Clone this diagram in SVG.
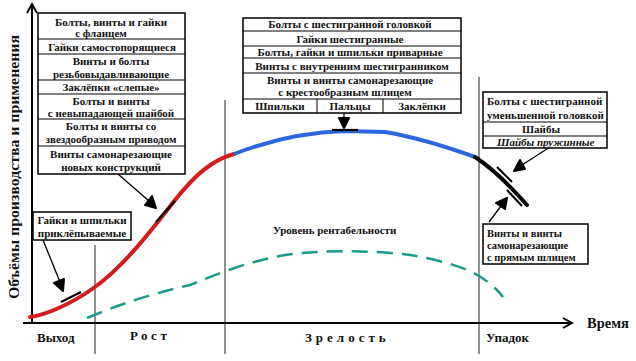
<svg xmlns="http://www.w3.org/2000/svg" width="636" height="361" viewBox="0 0 636 361">
<style>
text{font-family:'Liberation Serif','DejaVu Serif',serif;font-weight:bold;fill:#111}
.t{font-size:11px;text-anchor:middle}
.s{font-size:10.5px}
.box{fill:#fff;stroke:#000;stroke-width:1.5}
.ln{stroke:#000;stroke-width:1}
.ax{stroke:#000;stroke-width:2;fill:none}
.div{stroke:#222;stroke-width:1}
.lab{font-size:13px}
.lead{fill:none;stroke:#000;stroke-width:1.3}
.head{fill:#000;stroke:#000;stroke-width:2;stroke-linejoin:round}
.tick{fill:none;stroke:#000;stroke-width:2.2}
</style>
<rect width="636" height="361" fill="#fff"/>

<g id="axes">
<line class="ax" x1="32" y1="4" x2="32" y2="323"/>
<polyline class="ax" points="27,13 32,4 37,13"/>
<line class="ax" x1="23" y1="323" x2="571" y2="323"/>
<polyline class="ax" points="563,318 572,323 563,328"/>
<text x="587" y="328" style="font-size:14.5px">Время</text>
<text transform="translate(19,167) rotate(-90)" style="font-size:15.5px;text-anchor:middle" textLength="264" lengthAdjust="spacingAndGlyphs">Объёмы производства и применения</text>
</g>

<g id="dividers">
<line class="div" x1="95" y1="245" x2="95" y2="354"/>
<line class="div" x1="225" y1="100" x2="225" y2="354"/>
<line class="div" x1="479" y1="77" x2="479" y2="354"/>
</g>

<g id="stages">
<text class="lab" x="37" y="342">Выход</text>
<text class="lab" x="130" y="340" letter-spacing="3.5">Рост</text>
<text class="lab" x="305" y="342" letter-spacing="4">Зрелость</text>
<text class="lab" x="486" y="342">Упадок</text>
</g>

<g id="curves">
<path d="M30,317 C45,315 70,305 95,287 C125,265 150,232 175,200 C195,175 212,160 234,154" fill="none" stroke="#d41c1c" stroke-width="4" stroke-linecap="round"/>
<path d="M234,154 C270,140 310,132 345,131 L385,132 C420,138 450,148 475,157" fill="none" stroke="#2a66dd" stroke-width="4"/>
<path d="M475,157 C495,170 512,188 527,205" fill="none" stroke="#000" stroke-width="4" stroke-linecap="round"/>
<path d="M87,318 C130,300 160,292 190,285 C215,275 245,262 285,255 C320,250 370,250 410,255 C440,260 470,268 485,280 C495,287 500,293 503,297" fill="none" stroke="#1a9a88" stroke-width="2.5" stroke-dasharray="16,9"/>
<text x="273" y="234" style="font-size:11px">Уровень рентабельности</text>
</g>

<g id="connectors">
<path class="lead" d="M43,240 L60,282"/>
<path class="head" d="M63,291 L54,283 L64,279 Z"/>
<path class="tick" d="M61,302 L81,292"/>
<path class="lead" d="M118,174 L149,201"/>
<path class="head" d="M156,208 L145,205 L152,196 Z"/>
<path class="tick" d="M156,222 L175,201"/>
<path class="lead" d="M344,113 L344,118"/>
<path class="head" d="M344,128 L339,118 L349,118 Z"/>
<path class="tick" d="M332,130 L358,130"/>
<path class="lead" d="M550,147 L522,165"/>
<path class="head" d="M514,171 L520,160 L525,169 Z"/>
<path class="tick" d="M497,167 L512,182"/>
<path class="lead" d="M489,222 L501,206"/>
<path class="head" d="M507,198 L505,209 L496,203 Z"/>
<path class="tick" d="M507,190 L522,206"/>
</g>

<g id="box-left">
<rect class="box" x="38" y="13" width="147" height="161"/>
<line class="ln" x1="38" y1="39" x2="185" y2="39"/>
<line class="ln" x1="38" y1="54" x2="185" y2="54"/>
<line class="ln" x1="38" y1="80" x2="185" y2="80"/>
<line class="ln" x1="38" y1="94" x2="185" y2="94"/>
<line class="ln" x1="38" y1="119" x2="185" y2="119"/>
<line class="ln" x1="38" y1="146" x2="185" y2="146"/>
<text class="t" x="111" y="26">Болты, винты и гайки</text>
<text class="t" x="101" y="37">с фланцем</text>
<text class="t" x="112" y="51">Гайки самостопорящиеся</text>
<text class="t" x="111" y="65">Винты и болты</text>
<text class="t" x="111" y="78">резьбовыдавливающие</text>
<text class="t" x="111" y="91">Заклёпки «слепые»</text>
<text class="t" x="111" y="105">Болты и винты</text>
<text class="t" x="111" y="117">с невыпадающей шайбой</text>
<text class="t" x="111" y="130">Болты и винты со</text>
<text class="t" x="111" y="143">звездообразным приводом</text>
<text class="t" x="111" y="158">Винты самонарезающие</text>
<text class="t" x="111" y="171">новых конструкций</text>
</g>

<g id="box-early">
<rect class="box" x="33" y="212" width="98" height="28"/>
<text class="t" x="82" y="224">Гайки и шпильки</text>
<text class="t" x="82" y="237">приклёпываемые</text>
</g>

<g id="box-top">
<rect class="box" x="243" y="18" width="218" height="95"/>
<line class="ln" x1="243" y1="31" x2="461" y2="31"/>
<line class="ln" x1="243" y1="46" x2="461" y2="46"/>
<line class="ln" x1="243" y1="58" x2="461" y2="58"/>
<line class="ln" x1="243" y1="73" x2="461" y2="73"/>
<line class="ln" x1="243" y1="99" x2="461" y2="99"/>
<line class="ln" x1="317" y1="99" x2="317" y2="113"/>
<line class="ln" x1="383" y1="99" x2="383" y2="113"/>
<text class="t" x="350" y="28">Болты с шестигранной головкой</text>
<text class="t" x="350" y="43">Гайки шестигранные</text>
<text class="t" x="350" y="56">Болты, гайки и шпильки приварные</text>
<text class="t" x="352" y="70">Винты с внутренним шестигранником</text>
<text class="t" x="350" y="84">Винты и винты самонарезающие</text>
<text class="t" x="345" y="96">с крестообразным шлицем</text>
<text class="t" x="280" y="110">Шпильки</text>
<text class="t" x="350" y="110">Пальцы</text>
<text class="t" x="422" y="110">Заклёпки</text>
</g>

<g id="box-right">
<rect class="box" x="483" y="92" width="124" height="56"/>
<line class="ln" x1="483" y1="122" x2="607" y2="122"/>
<line class="ln" x1="483" y1="136" x2="607" y2="136"/>
<text x="487" y="105" style="font-size:11px">Болты с шестигранной</text>
<text x="487" y="119" style="font-size:11px">уменьшенной головкой</text>
<text class="t" x="541" y="133">Шайбы</text>
<text x="497" y="146" style="font-size:11px;font-style:italic">Шайбы пружинные</text>
</g>

<g id="box-decline">
<rect class="box" x="483" y="224" width="105" height="40"/>
<text class="s" x="487" y="237">Винты и винты</text>
<text class="s" x="487" y="249">самонарезающие</text>
<text class="s" x="487" y="261">с прямым шлицем</text>
</g>
</svg>
